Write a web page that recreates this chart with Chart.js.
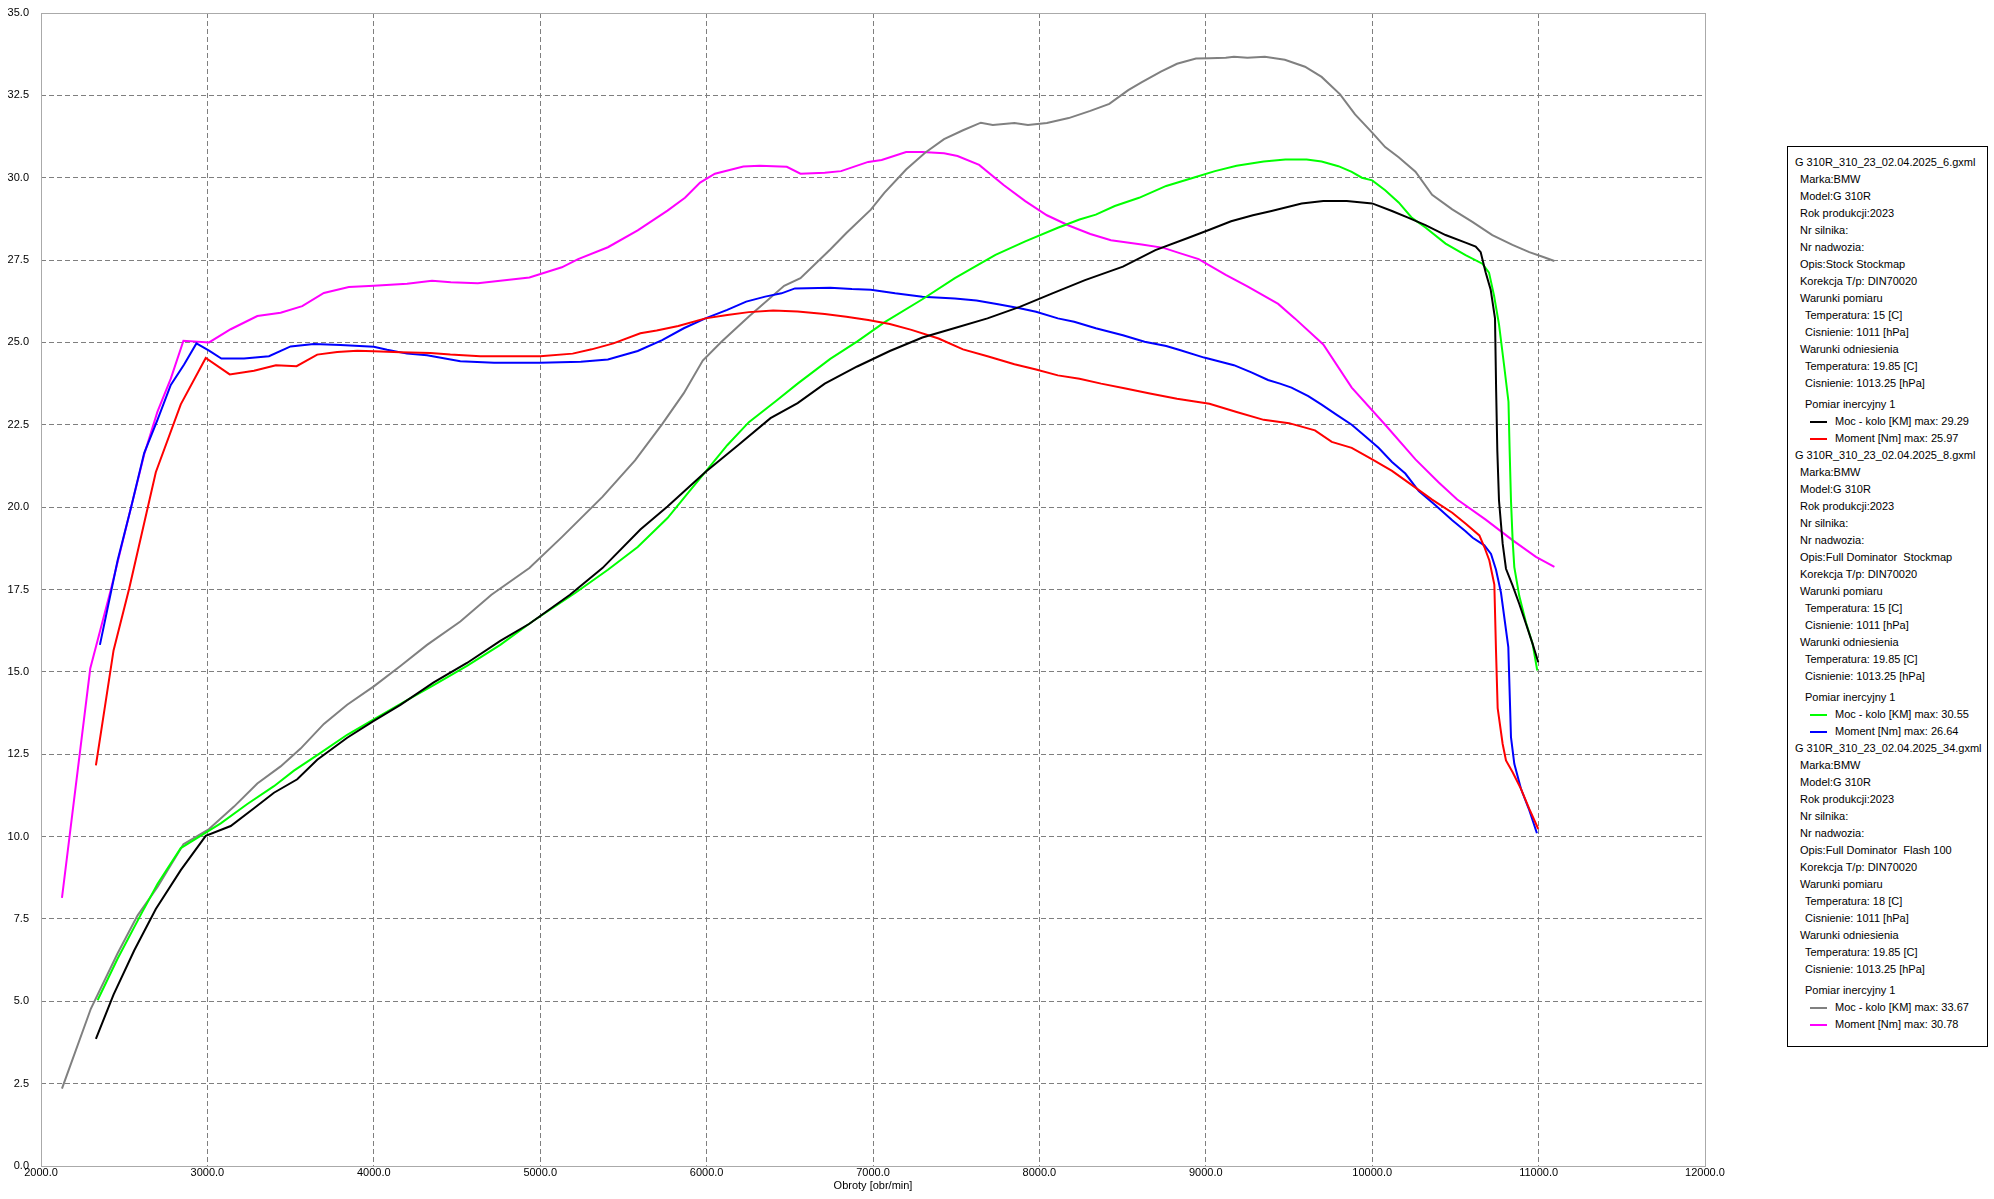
<!DOCTYPE html>
<html>
<head>
<meta charset="utf-8">
<script src="https://cdn.jsdelivr.net/npm/chart.js@4.4.1/dist/chart.umd.min.js"></script>
<style>
  html, body { margin: 0; padding: 0; background: #fff; }
  #wrap { position: relative; width: 1994px; height: 1199px; }
  #c { position: absolute; left: 0; top: 0; }
  #legend { position: absolute; left: 1787px; top: 146px; width: 199px; height: 892px;
            border: 1px solid #000; background: #fff; font-family: "Liberation Sans", Arial, sans-serif;
            font-size: 11px; color: #000; padding-top: 7px; box-sizing: content-box; }
  #legend div.l { height: 17px; line-height: 17px; white-space: pre; position: relative; }
  #legend .i0 { padding-left: 7px; }
  #legend .i1 { padding-left: 12px; }
  #legend .i2 { padding-left: 17px; }
  #legend .gap { margin-top: 4px; }
  #legend .ser { padding-left: 47px; }
  #legend .mk { position: absolute; left: 22px; top: 8px; width: 17px; height: 2px; }
</style>
</head>
<body>
<div id="wrap">
  <canvas id="c" width="1994" height="1199"></canvas>
  <div id="legend"></div>
</div>
<script>
// ---- Data (rpm / value pairs) ----
const xTicks = [2000, 3000, 4000, 5000, 6000, 7000, 8000, 9000, 10000, 11000, 12000];
const yTicks = [0, 2.5, 5, 7.5, 10, 12.5, 15, 17.5, 20, 22.5, 25, 27.5, 30, 32.5, 35];

// File 6 – Moc (black)
const rpmMoc6 = [2330,2436,2560,2690,2840,2990,3140,3280,3400,3540,3660,3840,4000,4160,4360,4560,4760,4935,5179,5374,5602,5765,5993,6189,6384,6547,6710,6905,7101,7297,7492,7688,7882,8078,8274,8502,8697,8892,9022,9152,9283,9395,9576,9706,9847,10000,10119,10219,10320,10441,10561,10622,10652,10682,10712,10738,10745,10752,10762,10784,10804,10844,10884,10924,10964,10998];
const valMoc6 = [3.86,5.2,6.54,7.8,8.98,10.02,10.32,10.86,11.33,11.74,12.33,13.0,13.51,14.0,14.68,15.27,15.94,16.46,17.34,18.15,19.32,20.02,21.07,21.88,22.7,23.16,23.75,24.27,24.74,25.15,25.44,25.73,26.08,26.49,26.89,27.3,27.8,28.17,28.42,28.68,28.86,28.99,29.22,29.29,29.29,29.22,28.99,28.78,28.56,28.26,28.03,27.91,27.74,27.12,26.6,25.73,23.5,21.7,20.2,18.89,18.13,17.62,17.06,16.46,15.85,15.29];

// File 6 – Moment (red)
const rpmMom6 = [2330,2436,2530,2690,2840,2990,3134,3280,3412,3536,3660,3780,3900,4000,4160,4340,4460,4640,4800,5000,5195,5309,5440,5602,5700,5830,5993,6124,6254,6400,6547,6710,6840,6971,7101,7231,7394,7541,7688,7850,7980,8111,8241,8371,8518,8664,8827,9022,9185,9348,9500,9656,9757,9877,10000,10119,10239,10360,10481,10564,10644,10674,10704,10734,10744,10754,10784,10804,10844,10894,10944,10998];
const valMom6 = [12.16,15.65,17.53,21.06,23.12,24.53,24.03,24.14,24.31,24.28,24.63,24.71,24.75,24.73,24.7,24.68,24.63,24.58,24.58,24.58,24.66,24.79,24.97,25.28,25.36,25.5,25.73,25.83,25.92,25.97,25.94,25.86,25.78,25.68,25.56,25.38,25.12,24.79,24.58,24.34,24.18,24.0,23.9,23.75,23.6,23.45,23.29,23.14,22.89,22.65,22.55,22.33,21.98,21.8,21.45,21.1,20.67,20.23,19.83,19.49,19.14,18.79,18.38,17.65,15.65,13.9,12.81,12.31,11.95,11.45,10.84,10.23];

// File 8 – Moc (green)
const rpmMoc8 = [2340,2460,2600,2700,2840,3000,3080,3240,3400,3520,3660,3840,4000,4200,4360,4560,4760,4951,5212,5407,5586,5765,5896,5993,6124,6254,6417,6547,6743,6906,7068,7297,7492,7736,7915,8111,8241,8339,8453,8599,8762,8925,9055,9185,9348,9478,9606,9696,9797,9877,9938,10000,10078,10159,10239,10320,10441,10561,10662,10702,10732,10762,10792,10819,10826,10834,10844,10854,10884,10924,10964,10992];
const valMoc8 = [5.03,6.29,7.63,8.56,9.65,10.15,10.4,10.99,11.53,12.0,12.47,13.09,13.56,14.14,14.6,15.18,15.82,16.52,17.4,18.1,18.79,19.67,20.48,21.07,21.88,22.58,23.22,23.75,24.5,25.03,25.61,26.31,26.95,27.66,28.07,28.48,28.73,28.88,29.14,29.39,29.75,30.0,30.2,30.36,30.49,30.55,30.55,30.49,30.35,30.18,30.0,29.92,29.62,29.25,28.78,28.49,28.0,27.65,27.39,27.12,26.43,25.55,24.33,23.2,21.72,20.2,18.99,18.18,17.3,16.5,15.85,15.04];

// File 8 – Moment (blue)
const rpmMom8 = [2354,2460,2540,2620,2700,2780,2860,2934,3010,3084,3220,3370,3500,3640,3800,4000,4080,4200,4320,4520,4723,5000,5244,5407,5586,5733,5863,5993,6124,6238,6352,6450,6531,6743,6873,6987,7133,7297,7492,7622,7752,7882,7980,8111,8209,8339,8502,8632,8762,8843,8990,9169,9274,9374,9446,9515,9616,9696,9787,9877,9958,10038,10119,10199,10280,10380,10481,10561,10604,10674,10714,10744,10774,10818,10834,10854,10894,10944,10990];
const valMom8 = [15.82,18.37,19.97,21.64,22.65,23.71,24.33,24.97,24.75,24.51,24.51,24.58,24.88,24.95,24.92,24.87,24.78,24.66,24.61,24.43,24.38,24.38,24.41,24.48,24.74,25.07,25.43,25.73,25.99,26.24,26.39,26.49,26.64,26.66,26.62,26.6,26.49,26.39,26.33,26.27,26.16,26.04,25.93,25.73,25.63,25.43,25.22,25.02,24.89,24.77,24.54,24.31,24.09,23.86,23.75,23.63,23.37,23.11,22.8,22.5,22.15,21.8,21.37,21.02,20.49,20.06,19.6,19.27,19.07,18.84,18.58,18.1,17.4,15.75,13.02,12.21,11.45,10.8,10.1];

// File 34 – Moc (gray)
const rpmMoc34 = [2126,2300,2460,2580,2700,2856,3010,3160,3300,3440,3560,3700,3840,4000,4160,4320,4520,4707,4935,5130,5374,5570,5733,5863,5977,6091,6254,6466,6564,6743,6840,6987,7068,7199,7313,7427,7541,7648,7720,7850,7931,8045,8176,8306,8420,8534,8616,8730,8827,8941,9022,9120,9169,9250,9355,9475,9596,9696,9807,9897,10000,10078,10159,10260,10360,10481,10602,10722,10843,10944,11024,11095];
const valMoc34 = [2.35,4.78,6.45,7.6,8.47,9.77,10.23,10.91,11.61,12.13,12.67,13.42,14.0,14.56,15.18,15.82,16.53,17.34,18.15,19.09,20.31,21.42,22.52,23.46,24.45,25.03,25.79,26.72,26.95,27.82,28.32,29.03,29.54,30.25,30.76,31.17,31.44,31.67,31.6,31.66,31.6,31.66,31.81,32.03,32.24,32.66,32.9,33.22,33.46,33.62,33.63,33.64,33.67,33.64,33.67,33.58,33.37,33.06,32.53,31.92,31.37,30.93,30.62,30.18,29.48,29.04,28.66,28.26,27.96,27.74,27.6,27.47];

// File 34 – Moment (magenta)
const rpmMom34 = [2126,2296,2420,2540,2620,2700,2780,2856,3010,3140,3300,3440,3570,3700,3850,4000,4200,4350,4463,4625,4935,5130,5228,5407,5586,5765,5870,5961,6050,6221,6319,6482,6564,6710,6808,6971,7052,7199,7297,7427,7508,7638,7785,7915,8045,8176,8306,8430,8615,8746,8843,8957,9120,9250,9435,9535,9706,9877,10078,10260,10400,10511,10682,10843,10984,11095];
const valMom34 = [8.14,15.1,17.5,19.97,21.6,22.9,23.9,25.05,25.0,25.4,25.8,25.9,26.1,26.5,26.68,26.72,26.78,26.87,26.83,26.8,26.97,27.28,27.53,27.89,28.4,29.0,29.39,29.85,30.12,30.34,30.36,30.33,30.12,30.15,30.2,30.48,30.54,30.78,30.78,30.74,30.66,30.39,29.78,29.29,28.86,28.55,28.29,28.1,27.97,27.87,27.71,27.53,27.05,26.7,26.17,25.73,24.94,23.63,22.5,21.45,20.75,20.23,19.62,19.0,18.49,18.19];

// Legend content
const fileNames = ["G 310R_310_23_02.04.2025_6.gxml", "G 310R_310_23_02.04.2025_8.gxml", "G 310R_310_23_02.04.2025_34.gxml"];
const opisTexts = ["Opis:Stock Stockmap", "Opis:Full Dominator  Stockmap", "Opis:Full Dominator  Flash 100"];
const tempPomiar = ["15", "15", "18"];
const mocLabels = ["Moc - kolo [KM] max: 29.29", "Moc - kolo [KM] max: 30.55", "Moc - kolo [KM] max: 33.67"];
const momLabels = ["Moment [Nm] max: 25.97", "Moment [Nm] max: 26.64", "Moment [Nm] max: 30.78"];
const mocColors = ["#000000", "#00ff00", "#808080"];
const momColors = ["#ff0000", "#0000ff", "#ff00ff"];

// ---- Build datasets ----
function pts(xs, ys) { return xs.map((x, i) => ({ x: x, y: ys[i] })); }
const seriesDefs = [
  [rpmMoc6, valMoc6, mocColors[0], mocLabels[0]],
  [rpmMom6, valMom6, momColors[0], momLabels[0]],
  [rpmMoc8, valMoc8, mocColors[1], mocLabels[1]],
  [rpmMom8, valMom8, momColors[1], momLabels[1]],
  [rpmMoc34, valMoc34, mocColors[2], mocLabels[2]],
  [rpmMom34, valMom34, momColors[2], momLabels[2]],
];
const datasets = seriesDefs.map(s => ({
  label: s[3], data: pts(s[0], s[1]), borderColor: s[2], backgroundColor: s[2],
  borderWidth: 2, pointRadius: 0, tension: 0, fill: false
}));

const frame = {
  id: 'frame',
  beforeDatasetsDraw(chart) {
    const a = chart.chartArea, ctx = chart.ctx;
    ctx.save();
    ctx.strokeStyle = '#aaaaaa';
    ctx.lineWidth = 1;
    ctx.setLineDash([]);
    ctx.strokeRect(Math.round(a.left) + 0.5, Math.round(a.top) + 0.5,
                   Math.round(a.right - a.left), Math.round(a.bottom - a.top));
    ctx.restore();
  }
};

const tickFont = { family: "'Liberation Sans', Arial, sans-serif", size: 11 };
new Chart(document.getElementById('c'), {
  type: 'line',
  data: { datasets: datasets },
  options: {
    responsive: false,
    animation: false,
    devicePixelRatio: 1,
    layout: { padding: { top: 13, right: 289, left: 0, bottom: 0 } },
    plugins: { legend: { display: false }, tooltip: { enabled: false } },
    scales: {
      x: {
        type: 'linear', min: xTicks[0], max: xTicks[xTicks.length - 1],
        afterFit: s => { s.height = 33; s.paddingLeft = 0; s.paddingRight = 0; },
        afterBuildTicks: s => { s.ticks = xTicks.map(v => ({ value: v })); },
        ticks: { font: tickFont, color: '#000', padding: 0, maxRotation: 0, autoSkip: false,
                 callback: v => Number(v).toFixed(1) },
        grid: { color: '#7f7f7f', lineWidth: 1, drawTicks: false },
        border: { display: false, dash: [5, 3] },
        title: { display: true, text: 'Obroty [obr/min]', font: tickFont, color: '#000',
                 padding: { top: 0, bottom: 6 } }
      },
      y: {
        type: 'linear', min: yTicks[0], max: yTicks[yTicks.length - 1],
        afterFit: s => { s.width = 41; s.paddingTop = 0; s.paddingBottom = 0; },
        afterBuildTicks: s => { s.ticks = yTicks.map(v => ({ value: v })); },
        ticks: { font: tickFont, color: '#000', padding: 12, autoSkip: false,
                 callback: v => Number(v).toFixed(1) },
        grid: { color: '#7f7f7f', lineWidth: 1, drawTicks: false },
        border: { display: false, dash: [5, 3] }
      }
    }
  },
  plugins: [frame]
});

// ---- Legend (HTML text) ----
const lg = document.getElementById('legend');
function line(cls, text, color) {
  const d = document.createElement('div');
  d.className = 'l ' + cls;
  d.textContent = text;
  if (color) {
    const m = document.createElement('span');
    m.className = 'mk';
    m.style.background = color;
    d.appendChild(m);
  }
  lg.appendChild(d);
}
for (let g = 0; g < fileNames.length; g++) {
  line('i0', fileNames[g]);
  line('i1', 'Marka:BMW');
  line('i1', 'Model:G 310R');
  line('i1', 'Rok produkcji:2023');
  line('i1', 'Nr silnika:');
  line('i1', 'Nr nadwozia:');
  line('i1', opisTexts[g]);
  line('i1', 'Korekcja T/p: DIN70020');
  line('i1', 'Warunki pomiaru');
  line('i2', 'Temperatura: ' + tempPomiar[g] + ' [C]');
  line('i2', 'Cisnienie: 1011 [hPa]');
  line('i1', 'Warunki odniesienia');
  line('i2', 'Temperatura: 19.85 [C]');
  line('i2', 'Cisnienie: 1013.25 [hPa]');
  line('i2 gap', 'Pomiar inercyjny 1');
  line('ser', mocLabels[g], mocColors[g]);
  line('ser', momLabels[g], momColors[g]);
}
</script>
</body>
</html>
